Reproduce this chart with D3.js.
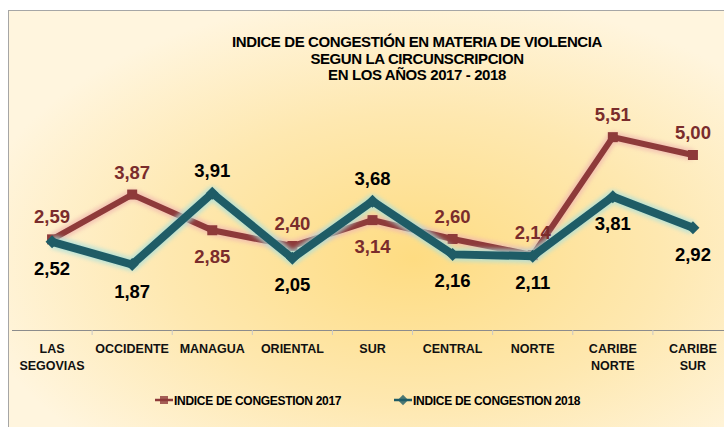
<!DOCTYPE html>
<html>
<head>
<meta charset="utf-8">
<script src="https://cdn.jsdelivr.net/npm/d3@7"></script>
<style>
  html, body { margin: 0; padding: 0; background: #fff; }
  svg { display: block; font-family: "Liberation Sans", Arial, sans-serif; }
</style>
</head>
<body>
<svg id="chart" width="724" height="427"></svg>
<script>
// categories and values
var categories = ["LAS SEGOVIAS", "OCCIDENTE", "MANAGUA", "ORIENTAL", "SUR",
                  "CENTRAL", "NORTE", "CARIBE NORTE", "CARIBE SUR"];
var values2017 = [2.59, 3.87, 2.85, 2.40, 3.14, 2.60, 2.14, 5.51, 5.00];
var values2018 = [2.52, 1.87, 3.91, 2.05, 3.68, 2.16, 2.11, 3.81, 2.92];
var seriesNames = ["INDICE DE CONGESTION 2017", "INDICE DE CONGESTION 2018"];
var titleLines = ["INDICE DE CONGESTIÓN EN MATERIA  DE VIOLENCIA",
                  "SEGUN LA CIRCUNSCRIPCION",
                  "EN LOS AÑOS 2017 - 2018"];

var svg = d3.select("#chart"),
    W = 724, H = 427;

var series = [
    {name: seriesNames[0], values: values2017, color: "#8e3a3a", glow: "#f0b8b0", label: "#7a2c2c", width: 6, marker: "square"},
    {name: seriesNames[1], values: values2018, color: "#1f5c66", glow: "#a9e0dc", label: "#000", width: 8, marker: "diamond"}
];

// background with radial gradient
var defs = svg.append("defs");
var grad = defs.append("radialGradient")
    .attr("id", "bg")
    .attr("cx", "56%").attr("cy", "58%").attr("r", "62%");
grad.append("stop").attr("offset", "0%").attr("stop-color", "#fedc82");
grad.append("stop").attr("offset", "55%").attr("stop-color", "#fee8b0");
grad.append("stop").attr("offset", "100%").attr("stop-color", "#fff5de");

var glow = defs.append("filter").attr("id", "glow")
    .attr("x", "-20%").attr("y", "-20%").attr("width", "140%").attr("height", "140%");
glow.append("feGaussianBlur").attr("stdDeviation", 2);

svg.append("rect")
    .attr("x", 8.5).attr("y", 10.5)
    .attr("width", W).attr("height", H)
    .attr("fill", "url(#bg)")
    .attr("stroke", "#a6a6a6");

// title
svg.append("g").selectAll("text")
    .data(titleLines)
    .enter().append("text")
    .attr("x", 417)
    .attr("y", function(d, i) { return 47 + i * 16.5; })
    .attr("text-anchor", "middle")
    .attr("font-size", 15)
    .attr("font-weight", "bold")
    .attr("letter-spacing", -0.4)
    .text(function(d) { return d; });

// scales
var x = d3.scaleBand().domain(categories).range([12, 733]).padding(0);
var y = d3.scaleLinear().domain([0, 6]).range([330, 120]);
var cx = function(i) { return x(categories[i]) + x.bandwidth() / 2; };

// axis
var axis = d3.axisBottom(x).tickSizeInner(5).tickSizeOuter(0).tickFormat("");
var axisG = svg.append("g")
    .attr("transform", "translate(0," + y(0) + ")")
    .call(axis);
axisG.select(".domain").attr("stroke", "#8c8c8c").attr("d", "M" + x.range()[0] + ",0.5H" + W);
axisG.selectAll(".tick line")
    .attr("stroke", "#c8c8c8")
    .attr("transform", "translate(" + (x.bandwidth() / 2) + ",0)");

// category labels
var catG = svg.append("g");
categories.forEach(function(c, i) {
    var words = c.split(" ");
    var t = catG.append("text")
        .attr("x", cx(i))
        .attr("y", 353)
        .attr("text-anchor", "middle")
        .attr("font-size", 12.5)
        .attr("font-weight", "bold")
        .attr("fill", "#111");
    words.forEach(function(w, j) {
        t.append("tspan").attr("x", cx(i)).attr("dy", j ? 17 : 0).text(w);
    });
});

var line = d3.line()
    .x(function(d, i) { return cx(i); })
    .y(function(d) { return y(d); });

function markerPath(type, s) {
    if (type === "square") return "M" + (-s) + "," + (-s) + "h" + 2 * s + "v" + 2 * s + "h" + (-2 * s) + "Z";
    return "M0," + (-s * 1.3) + "L" + s * 1.3 + ",0L0," + s * 1.3 + "L" + (-s * 1.3) + ",0Z";
}

// lines, glow first
series.forEach(function(s) {
    var g = svg.append("g");
    g.append("path")
        .attr("d", line(s.values))
        .attr("fill", "none")
        .attr("stroke", s.glow)
        .attr("stroke-width", s.width + 5)
        .attr("stroke-linejoin", "round")
        .attr("opacity", 0.8)
        .attr("filter", "url(#glow)");
    g.append("path")
        .attr("d", line(s.values))
        .attr("fill", "none")
        .attr("stroke", s.color)
        .attr("stroke-width", s.width)
        .attr("stroke-linejoin", "miter");
    g.selectAll(".mk")
        .data(s.values)
        .enter().append("path")
        .attr("class", "mk")
        .attr("transform", function(d, i) { return "translate(" + cx(i) + "," + y(d) + ")"; })
        .attr("d", markerPath(s.marker, 5))
        .attr("fill", s.color);
});

// data labels: above when this series is higher than the other one
series.forEach(function(s, k) {
    var other = series[1 - k].values;
    svg.append("g").selectAll("text")
        .data(s.values)
        .enter().append("text")
        .attr("x", function(d, i) { return cx(i); })
        .attr("y", function(d, i) { return y(d) + (d >= other[i] ? -16 : 33); })
        .attr("text-anchor", "middle")
        .attr("font-size", 18.5)
        .attr("font-weight", "bold")
        .attr("fill", s.label)
        .text(function(d) { return d3.format(".2f")(d).replace(".", ","); });
});

// legend
var legendX = [155, 394];
series.forEach(function(s, k) {
    var g = svg.append("g").attr("transform", "translate(" + legendX[k] + ",400)");
    g.append("line").attr("x1", 0).attr("x2", 18)
        .attr("stroke", s.color).attr("stroke-width", 2.5);
    g.append("path").attr("transform", "translate(9,0)")
        .attr("d", markerPath(s.marker, 4))
        .attr("fill", s.color).attr("opacity", 0.8);
    g.append("text")
        .attr("x", 19).attr("y", 4.5)
        .attr("font-size", 12)
        .attr("font-weight", "bold")
        .attr("letter-spacing", -0.3)
        .text(s.name);
});
</script>
</body>
</html>
